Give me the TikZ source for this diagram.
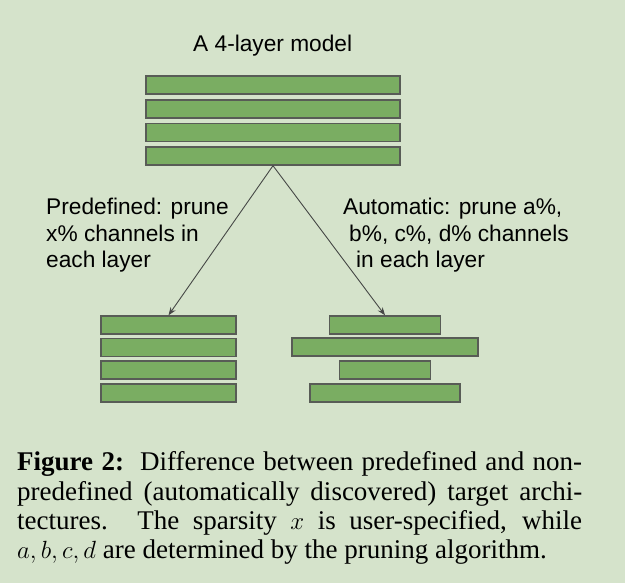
\documentclass[tikz,border=0pt]{standalone}
\usepackage{fontspec}
\setmainfont{Liberation Serif}
\newfontfamily\arialfont{Liberation Sans}
\usepackage{xcolor}
\usepackage{amsmath}
\usetikzlibrary{arrows.meta}
\definecolor{bgcol}{RGB}{213,227,203}
\definecolor{barcol}{RGB}{122,173,98}
\definecolor{edgecol}{RGB}{88,92,86}
\definecolor{arrowcol}{RGB}{70,72,70}
\begin{document}
\begin{tikzpicture}[x=1pt,y=-1pt,
    layer/.style={draw=edgecol,fill=barcol,line width=1.4pt,inner sep=0pt,minimum height=18pt},
    label/.style={inner sep=0pt,font=\arialfont\fontsize{22.7}{26.5}\selectfont,align=left},
    prune/.style={draw=arrowcol,line width=0.9pt,-{Stealth[length=8pt,width=6pt]}}]
    \fill[bgcol] (0,0) rectangle (625,583);
    \useasboundingbox (0,0) rectangle (625,583);
    % title and the full model
    \node[label,anchor=base west](title) at (193,52){A 4-layer model};
    \foreach \i/\y in {1/85,2/109,3/132.5,4/156}
      \node[layer,minimum width=254pt](t\i) at (273,\y){};
    % predefined: every layer pruned alike
    \foreach \i/\y in {1/325,2/347.5,3/370,4/393}
      \node[layer,minimum width=135pt](l\i) at (168.5,\y){};
    % automatic: each layer pruned by its own amount
    \foreach \i/\y/\w in {1/325/111,2/347/186,3/370/91,4/393/150}
      \node[layer,minimum width=\w pt](r\i) at (385,\y){};
    \node[label,anchor=base west](pre) at (46,268){Predefined: prune\\x\% channels in\\each layer};
    \node[label,anchor=base west](auto) at (343,268){Automatic: prune a\%,\\\hspace*{6pt}b\%, c\%, d\% channels\\\hspace*{13pt}in each layer};
    \draw[prune] (t4.south) -- (l1.north);
    \draw[prune] (t4.south) -- (r1.north);
    % caption
    \node[inner sep=0pt,anchor=base west,text width=565pt,align=justify,
      font=\fontsize{27}{29.4}\selectfont](caption) at (17,470.7){%
      \textbf{Figure 2:}\hspace{4pt} Difference between predefined and non-\linebreak
      predefined (automatically discovered) target archi-\linebreak
      tectures. The sparsity $x$ is user-specified, while\linebreak
      $a,b,c,d$ are determined by the pruning algorithm.};
  \end{tikzpicture}
\end{document}
